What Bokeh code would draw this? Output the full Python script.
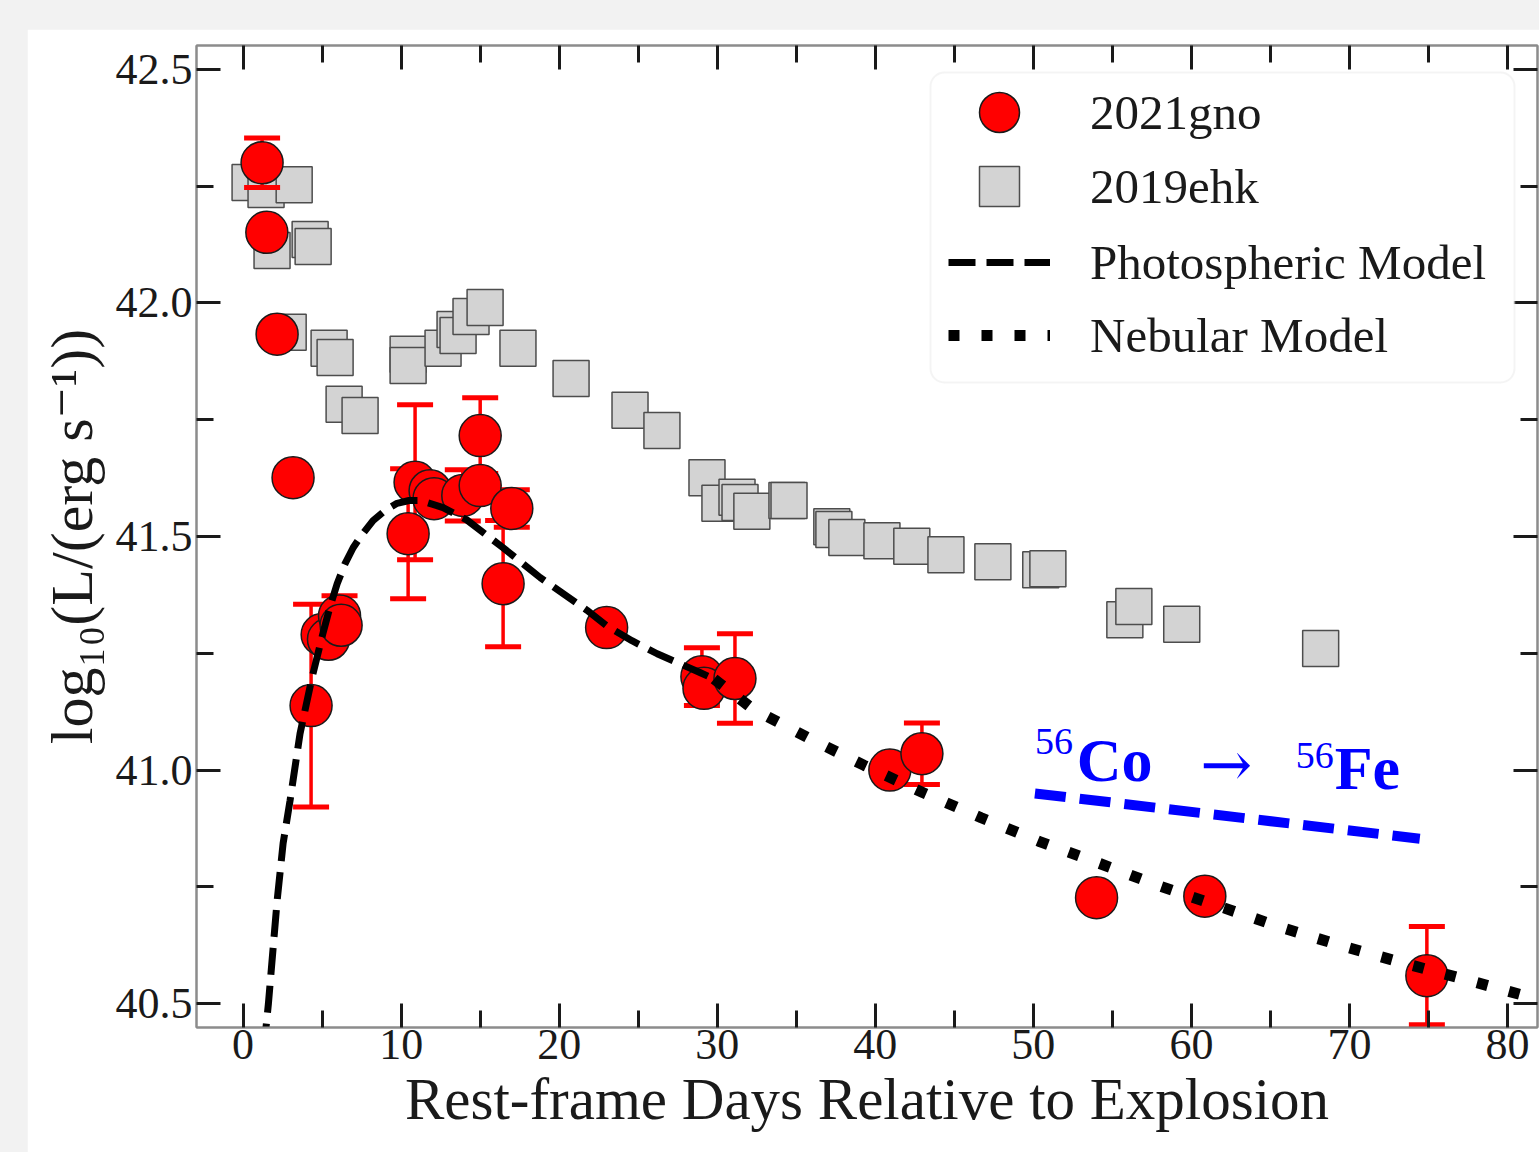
from bokeh.plotting import figure
from bokeh.models import (Range1d, FixedTicker, LinearAxis, Legend, LegendItem,
                          BoxAnnotation, ColumnDataSource)
from bokeh.core.properties import value
from bokeh.layouts import column
from bokeh.embed import file_html
from bokeh.resources import INLINE

# ---------------- data ----------------
gno_days = [1.2, 1.5, 2.15, 3.16, 4.3, 5.0, 5.4, 6.1, 6.2, 10.44, 10.88, 11.83, 12.08,
            13.9, 15.0, 15.0, 17.0, 16.45, 23.0, 29.03, 29.16, 31.12, 40.92, 42.95,
            54.0, 60.85, 74.9]
gno_logL = [42.30, 42.151, 41.933, 41.626, 41.138, 41.29, 41.28, 41.33, 41.31, 41.506,
            41.616, 41.598, 41.581, 41.588, 41.609, 41.716, 41.56, 41.399, 41.305,
            41.200, 41.175, 41.196, 41.0, 41.035, 40.727, 40.730, 40.560]
gno_err = [0.053, 0, 0, 0, 0.217, 0, 0, 0.043, 0, 0.139, 0.166, 0, 0, 0.055, 0,
           0.081, 0.04, 0.135, 0, 0.062, 0, 0.096, 0, 0.066, 0, 0, 0.105]

ehk_days = [0.44, 1.45, 3.23, 1.83, 4.24, 4.43, 2.85, 5.44, 5.82, 6.39, 7.40, 10.44,
            10.44, 12.65, 13.41, 13.60, 14.42, 15.31, 17.39, 20.75, 24.48, 26.50,
            29.35, 30.17, 31.25, 31.44, 32.19, 34.41, 34.54, 37.25, 37.38, 38.20,
            40.42, 42.31, 44.47, 47.44, 50.47, 50.92, 55.79, 56.36, 59.39, 68.18]
ehk_logL = [42.258, 42.243, 42.253, 42.112, 42.136, 42.121, 41.937, 41.903, 41.883,
            41.783, 41.759, 41.890, 41.866, 41.903, 41.943, 41.930, 41.971, 41.990,
            41.903, 41.838, 41.770, 41.727, 41.626, 41.571, 41.584, 41.573, 41.554,
            41.577, 41.577, 41.521, 41.515, 41.498, 41.491, 41.479, 41.461, 41.446,
            41.429, 41.431, 41.322, 41.350, 41.312, 41.260]

photo_days = [1.3, 1.6, 2.15, 2.53, 2.97, 3.6, 4.36, 5.06, 5.5, 5.95, 6.45, 6.96, 7.5,
              8.22, 9.0, 9.74, 10.5, 11.2, 12.65, 14.17, 16.45, 18.8, 21.76, 23.0,
              24.6, 26.2, 28.9, 29.8]
photo_logL = [40.40, 40.50, 40.72, 40.843, 40.935, 41.078, 41.198, 41.294, 41.350,
              41.399, 41.442, 41.476, 41.503, 41.534, 41.556, 41.571, 41.577, 41.577,
              41.562, 41.535, 41.476, 41.412, 41.342, 41.309, 41.277, 41.249, 41.209,
              41.195]

neb_days = [29.8, 32.2, 35.7, 39.3, 43.0, 46.7, 50.4, 54.2, 57.9, 61.8, 65.7, 69.5,
            73.3, 77.2, 81.1, 83.0]
neb_logL = [41.195, 41.132, 41.070, 41.010, 40.952, 40.898, 40.847, 40.800, 40.753,
            40.708, 40.663, 40.624, 40.588, 40.553, 40.517, 40.500]

co_days = [50.1, 74.45]
co_logL = [40.950, 40.853]

x_ticks = [0, 10, 20, 30, 40, 50, 60, 70, 80]
x_tick_labels = ["0", "10", "20", "30", "40", "50", "60", "70", "80"]
x_minor = [5, 15, 25, 35, 45, 55, 65, 75]
y_ticks = [40.5, 41.0, 41.5, 42.0, 42.5]
y_tick_labels = ["40.5", "41.0", "41.5", "42.0", "42.5"]
y_minor = [40.75, 41.25, 41.75, 42.25]

series_names = ["2021gno", "2019ehk", "Photospheric Model", "Nebular Model"]

# ---------------- figure ----------------
SERIF = "Liberation Serif, DejaVu Serif, serif"

p = figure(width=1512, height=1123,
           x_range=Range1d(-2.95, 81.9), y_range=Range1d(40.449, 42.551),
           output_backend="svg", toolbar_location=None,
           min_border_left=169, min_border_right=2, min_border_top=16,
           min_border_bottom=125)
p.margin = (29, 0, 0, 27)
p.grid.visible = False
p.background_fill_color = "white"
p.border_fill_color = "white"
p.outline_line_color = "#8c8c8c"
p.outline_line_width = 2

xb = p.below[0]
yl = p.left[0]
xb.ticker = FixedTicker(ticks=x_ticks, minor_ticks=x_minor)
yl.ticker = FixedTicker(ticks=y_ticks, minor_ticks=y_minor)
xb.major_label_overrides = {t: l for t, l in zip(x_ticks, x_tick_labels)}
yl.major_label_overrides = {t: l for t, l in zip(y_ticks, y_tick_labels)}
xb.axis_label = "Rest-frame Days Relative to Explosion"
yl.axis_label = "log\u2081\u2080(L/(erg s\u207b\u00b9))"


def style_axis(ax, show_labels=True):
    ax.axis_line_color = "#8c8c8c"
    ax.axis_line_width = 2
    ax.major_tick_line_color = "#1a1a1a"
    ax.minor_tick_line_color = "#1a1a1a"
    ax.major_tick_line_width = 3
    ax.minor_tick_line_width = 3
    ax.major_tick_in = 24
    ax.major_tick_out = 0
    ax.minor_tick_in = 17
    ax.minor_tick_out = 0
    if show_labels:
        ax.major_label_text_font = SERIF
        ax.major_label_text_font_size = "44px"
        ax.major_label_text_color = "#1a1a1a"
        ax.axis_label_text_font = SERIF
        ax.axis_label_text_font_style = "normal"
        ax.axis_label_text_color = "#1a1a1a"
    else:
        ax.major_label_text_font_size = "0px"
        ax.major_label_text_color = None
        ax.major_label_standoff = 0
        ax.axis_label = None


style_axis(xb)
style_axis(yl)
xb.major_label_standoff = 2
yl.major_label_standoff = 4
xb.axis_label_text_font_size = "59px"
yl.axis_label_text_font_size = "60px"
xb.axis_label_standoff = 4
yl.axis_label_standoff = 8

top_ax = LinearAxis(ticker=FixedTicker(ticks=x_ticks, minor_ticks=x_minor))
right_ax = LinearAxis(ticker=FixedTicker(ticks=y_ticks, minor_ticks=y_minor))
style_axis(top_ax, False)
style_axis(right_ax, False)
p.add_layout(top_ax, "above")
p.add_layout(right_ax, "right")

# ---------------- glyphs ----------------
r_ehk = p.scatter(ehk_days, ehk_logL, marker="square", size=36,
                  fill_color="#d3d3d3", line_color="#4d4d4d", line_width=1.5)

eb_x = [d for d, e in zip(gno_days, gno_err) if e > 0]
eb_lo = [y - e for y, e in zip(gno_logL, gno_err) if e > 0]
eb_hi = [y + e for y, e in zip(gno_logL, gno_err) if e > 0]
eb = ColumnDataSource(dict(x=eb_x, lo=eb_lo, hi=eb_hi))
p.segment(x0="x", y0="lo", x1="x", y1="hi", source=eb, line_color="red", line_width=3.5)
p.scatter("x", "lo", source=eb, marker="dash", size=36, line_color="red", line_width=5)
p.scatter("x", "hi", source=eb, marker="dash", size=36, line_color="red", line_width=5)

r_gno = p.scatter(gno_days, gno_logL, marker="circle", size=42,
                  fill_color="#ff0000", line_color="#1a1a1a", line_width=1.5)

r_photo = p.line(photo_days, photo_logL, line_color="black", line_width=7,
                 line_dash="27 11")
r_neb = p.line(neb_days, neb_logL, line_color="black", line_width=11,
               line_dash="11 22")

p.line(co_days, co_logL, line_color="#0000ff", line_width=10, line_dash="31 14")

# decay label pieces
p.text([50.1, 66.6], [41.061, 41.031], text=["56", "56"], text_color="#0000ff",
       text_font=value(SERIF), text_font_size="38px", text_baseline="alphabetic",
       text_align="left")
p.text([52.75, 69.07], [41.022, 41.004], text=["Co", "Fe"], text_color="#0000ff",
       text_font=value(SERIF), text_font_size="62px", text_font_style="bold",
       text_baseline="alphabetic", text_align="left")
p.text([62.2], [41.012], text=["\u2192"], text_color="#0000ff",
       text_font=value("DejaVu Serif"), text_font_size="62px", text_baseline="middle",
       text_align="center")

# ---------------- legend ----------------
box = BoxAnnotation(left=903, right=1487, top=43, bottom=353,
                    left_units="canvas", right_units="canvas",
                    top_units="canvas", bottom_units="canvas",
                    fill_color="white", fill_alpha=0.85,
                    line_color="#d9d9d9", line_width=2, border_radius=14)
p.add_layout(box)

legend_renderers = [r_gno, r_ehk, r_photo, r_neb]
legend_offsets = [865, 791, 715, 642]
for name, rend, off in zip(series_names, legend_renderers, legend_offsets):
    lg = Legend(items=[LegendItem(label=name, renderers=[rend])],
                location=(752, off), glyph_width=102, glyph_height=100,
                spacing=0, padding=0, margin=0, label_standoff=40,
                label_text_font=SERIF, label_text_font_size="49px",
                label_text_color="#1a1a1a",
                border_line_color=None, background_fill_alpha=0)
    p.add_layout(lg)

root = column(p, styles={"background-color": "#f2f2f2"}, width=1539, height=1152)

open("out.html", "w").write(file_html(root, INLINE))
